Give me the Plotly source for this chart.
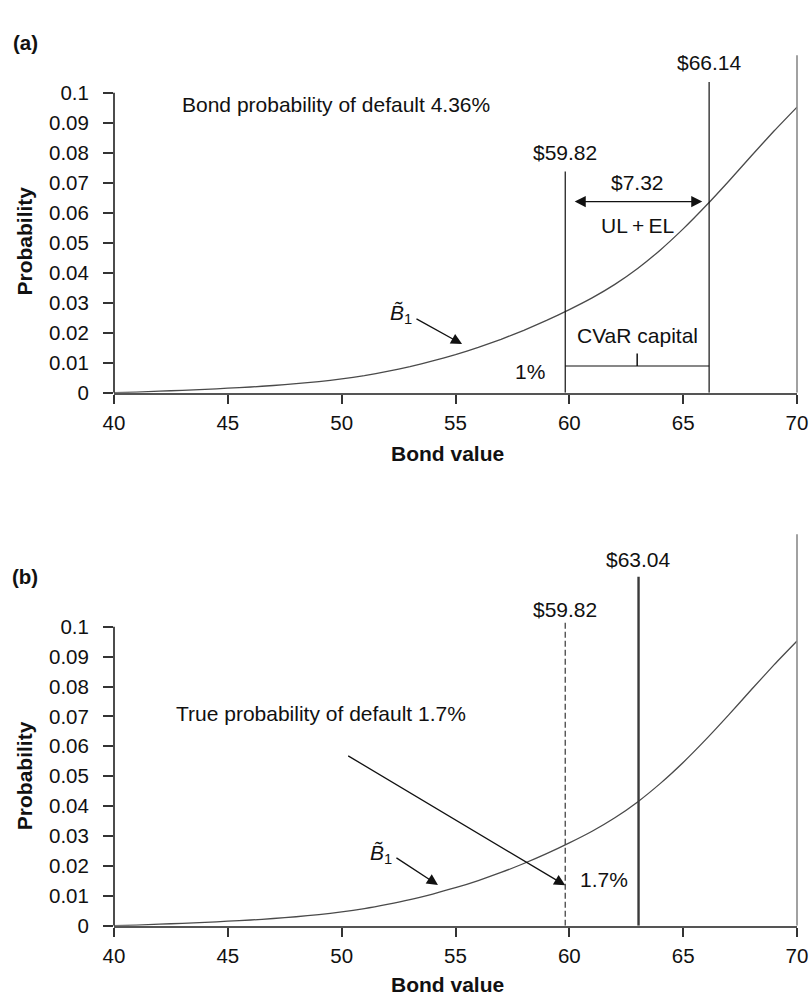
import plotly.graph_objects as go

# ---- data -------------------------------------------------------------
bond_value = list(range(40, 71))
probability = [0.0000, 0.0002, 0.0005, 0.0008, 0.0011, 0.0015, 0.0019, 0.0024, 0.0030, 0.0037,
               0.0046, 0.0057, 0.0071, 0.0087, 0.0106, 0.0127, 0.0151, 0.0178, 0.0208, 0.0241,
               0.0277, 0.0316, 0.0361, 0.0414, 0.0476, 0.0546, 0.0623, 0.0705, 0.0790, 0.0873,
               0.0952]

x_ticks = [40, 45, 50, 55, 60, 65, 70]
y_ticks = [0, 0.01, 0.02, 0.03, 0.04, 0.05, 0.06, 0.07, 0.08, 0.09, 0.1]
y_tick_text = ["0", "0.01", "0.02", "0.03", "0.04", "0.05", "0.06", "0.07", "0.08", "0.09", "0.1"]

# panel (a)
var_a = 59.82          # 1% quantile value
cvar_a = 66.14         # CVaR reference value
ul_el = "$7.32"
pd_bond = "4.36%"
tail_level_a = 0.0089  # height of the 1% bracket

# panel (b)
var_b = 59.82
price_b = 63.04
pd_true = "1.7%"

# ---- layout geometry (pixels) ----------------------------------------
W, H = 812, 995
X_LEFT, X_RIGHT = 114, 797
A_ZERO, A_PX = 392.7, 3000.0   # px of y=0 and px per unit, panel a
B_ZERO, B_PX = 925.7, 2990.0
A_TOP, B_TOP = 0.113, 0.133     # upper end of each y range

FONT = "Liberation Sans, Arial, Helvetica, sans-serif"
BLACK = "#111111"
TXT = 21
TICK = 20.5


def ydomain(zero_px, px_per_unit, top):
    lo = (H - zero_px) / H
    hi = (H - (zero_px - top * px_per_unit)) / H
    return [lo, hi]


fig = go.Figure()

for xa, ya in (("x", "y"), ("x2", "y2")):
    fig.add_trace(go.Scatter(
        x=bond_value, y=probability, mode="lines",
        line=dict(color="#4a4a4a", width=1.3, shape="spline", smoothing=0.5),
        xaxis=xa, yaxis=ya, hoverinfo="skip", showlegend=False,
    ))

axis_common = dict(
    showgrid=False, zeroline=False, ticks="outside", automargin=False,
    tickfont=dict(family=FONT, size=TICK, color=BLACK),
)
xdom = [X_LEFT / W, X_RIGHT / W]
xaxis_style = dict(domain=xdom, range=[40, 70], tickvals=x_ticks,
                   showline=True, linecolor="#555555", linewidth=2,
                   ticklen=9, tickcolor="#333333", tickwidth=1.5, ticklabelstandoff=2,
                   **axis_common)
yaxis_style = dict(tickvals=y_ticks, ticktext=y_tick_text, showline=False,
                   ticklen=10, tickcolor="#333333", tickwidth=1.5, ticklabelstandoff=10,
                   **axis_common)

fig.update_layout(
    width=W, height=H, margin=dict(l=0, r=0, t=0, b=0, pad=0, autoexpand=False),
    paper_bgcolor="white", plot_bgcolor="white", showlegend=False,
    font=dict(family=FONT, size=TXT, color=BLACK),
    xaxis=dict(anchor="y", **xaxis_style),
    yaxis=dict(domain=ydomain(A_ZERO, A_PX, A_TOP), range=[0, A_TOP], anchor="x",
               **yaxis_style),
    xaxis2=dict(anchor="y2", **xaxis_style),
    yaxis2=dict(domain=ydomain(B_ZERO, B_PX, B_TOP), range=[0, B_TOP], anchor="x2",
                **yaxis_style),
)

shapes = []


def vline(xref, yref, x, y0, y1, color, width, dash="solid"):
    shapes.append(dict(type="line", xref=xref, yref=yref, x0=x, x1=x, y0=y0, y1=y1,
                       line=dict(color=color, width=width, dash=dash), layer="above"))


def hline(xref, yref, x0, x1, y, color, width):
    shapes.append(dict(type="line", xref=xref, yref=yref, x0=x0, x1=x1, y0=y, y1=y,
                       line=dict(color=color, width=width), layer="above"))


# y axis spines only up to 0.1
vline("x domain", "y", 0, 0, 0.1, BLACK, 1.5)
vline("x2 domain", "y2", 0, 0, 0.1, BLACK, 1.5)

# panel (a) markers
vline("x domain", "y", 1, 0, 0.1125, "#8a8a8a", 1.6)
vline("x", "y", var_a, 0, 0.0737, BLACK, 1.2)
vline("x", "y", cvar_a, 0, 0.1036, BLACK, 1.2)
hline("x", "y", var_a, cvar_a, tail_level_a, BLACK, 1.2)
mid_a = (var_a + cvar_a) / 2
vline("x", "y", mid_a, tail_level_a, 0.0131, BLACK, 1.5)

# panel (b) markers
vline("x2 domain", "y2", 1, 0, 0.1309, "#8a8a8a", 1.6)
vline("x2", "y2", var_b, 0, 0.1016, "#444444", 1.3, dash="6px,3px")
vline("x2", "y2", price_b, 0, 0.1167, "#3a3a3a", 2.4)

fig.update_layout(shapes=shapes)

ann = []


def text(x, y, s, xref="x", yref="y", xanchor="center", size=TXT, bold=False, angle=0):
    ann.append(dict(x=x, y=y, xref=xref, yref=yref, text=f"<b>{s}</b>" if bold else s,
                    showarrow=False, xanchor=xanchor, yanchor="middle", textangle=angle,
                    font=dict(family=FONT, size=size, color=BLACK)))


def arrow(x, y, ax, ay, xref, yref, side="end"):
    ann.append(dict(x=x, y=y, ax=ax, ay=ay, xref=xref, yref=yref, axref=xref, ayref=yref,
                    text="", showarrow=True, arrowhead=2, arrowsize=1.7, arrowwidth=1.3,
                    arrowcolor=BLACK, arrowside=side, standoff=0, startstandoff=0))


# italic B with a tilde accent and subscript 1
B_TILDE = "<i>B\u0303</i><sub>1</sub>"

# panel (a) labels
text(42.9, 0.0962, f"Bond probability of default {pd_bond}", xanchor="left")
text(cvar_a, 0.1102, f"${cvar_a:.2f}")
text(var_a, 0.0800, f"${var_a:.2f}")
text(mid_a, 0.0701, ul_el)
arrow(cvar_a - 0.3, 0.0637, var_a + 0.35, 0.0637, "x", "y", side="end+start")
text(mid_a, 0.0556, "UL\u2009+\u2009EL")
text(mid_a, 0.0192, "CVaR capital")
text(var_a - 0.8, 0.0070, "1%", xanchor="right")
text(52.05, 0.0264, B_TILDE, xanchor="left")
arrow(55.29, 0.0162, 53.22, 0.0249, "x", "y")

# panel (b) labels
text(price_b, 0.1226, f"${price_b:.2f}", xref="x2", yref="y2")
text(var_b, 0.1059, f"${var_b:.2f}", xref="x2", yref="y2")
text(42.64, 0.0711, f"True probability of default {pd_true}", xref="x2", yref="y2",
     xanchor="left")
arrow(var_b, 0.0135, 50.22, 0.0571, "x2", "y2")
text(var_b + 0.55, 0.0156, pd_true, xref="x2", yref="y2", xanchor="left")
text(51.14, 0.0239, B_TILDE, xref="x2", yref="y2", xanchor="left")
arrow(54.23, 0.0136, 52.34, 0.0230, "x2", "y2")

# panel tags and axis titles
text(25 / W, (H - 42) / H, "(a)", xref="paper", yref="paper", bold=True, size=20.5)
text(25 / W, (H - 576) / H, "(b)", xref="paper", yref="paper", bold=True, size=20.5)
text(24 / W, (H - 241.5) / H, "Probability", xref="paper", yref="paper", bold=True,
     angle=-90)
text(24 / W, (H - 776.2) / H, "Probability", xref="paper", yref="paper", bold=True,
     angle=-90)
text(447 / W, (H - 453) / H, "Bond value", xref="paper", yref="paper", bold=True)
text(447 / W, (H - 984) / H, "Bond value", xref="paper", yref="paper", bold=True)

fig.update_layout(annotations=ann)

fig.write_html("out.html")
